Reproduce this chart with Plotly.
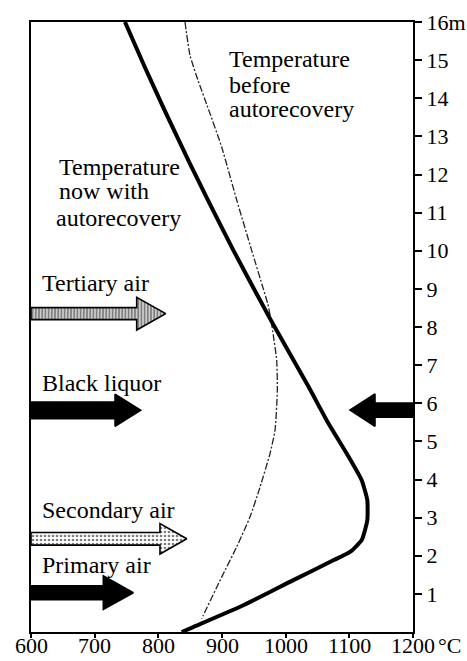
import plotly.graph_objects as go

# Temperature profile with autorecovery (thick line): temperature in °C vs height in m
now_temp = [747.6, 778.7, 809.7, 849.4, 877.9, 917.9, 976.7, 1036.0, 1064.5, 1095.9,
            1119.4, 1128.2, 1128.2, 1119.4, 1101.1, 1074.8, 1012.0, 933.5, 854.9, 836.7]
now_height = [16.0, 14.82, 13.69, 12.29, 11.33, 10.01, 8.18, 6.43, 5.55, 4.68,
              3.98, 3.46, 2.93, 2.41, 2.10, 1.88, 1.36, 0.70, 0.13, 0.0]

# Temperature profile before autorecovery (thin dash-dot line)
before_temp = [841.9, 849.7, 862.3, 876.4, 899.5, 923.1, 946.6, 964.9, 972.0, 977.0, 980.6,
               985.9, 986.9, 983.3, 975.4, 959.7, 944.0, 923.0, 899.5, 870.6, 868.0]
before_height = [16.0, 15.13, 14.47, 13.82, 12.72, 11.33, 10.01, 9.0, 8.6, 8.18, 7.78,
                 7.13, 6.34, 5.29, 4.68, 3.80, 3.02, 2.23, 1.44, 0.44, 0.35]

# Axis ticks
x_ticks = [600, 700, 800, 900, 1000, 1100, 1200]
x_ticklabels = ["600", "700", "800", "900", "1000", "1100", "1200"]
x_unit = "°C"
y_ticks = list(range(1, 17))
y_ticklabels = [str(v) for v in range(1, 16)] + ["16m"]

# Feed arrows: height (m), tail / head-base / tip temperatures (°C)
feed_names = ["Tertiary air", "Black liquor", "Black liquor (opposite wall)", "Secondary air", "Primary air"]
feed_height = [8.35, 5.815, 5.82, 2.445, 1.03]
feed_tail = [600, 600, 1200, 600, 600]
feed_head_base = [766.0, 732.0, 1140.3, 802.6, 713.6]
feed_tip = [811.6, 772.3, 1101.0, 844.6, 760.7]

FONT = "Liberation Serif"

fig = go.Figure()


def arrow_polygon(yc, tail, base, tip, body, head):
    xs = [tail, base, base, tip, base, base, tail, tail]
    ys = [yc - body, yc - body, yc - head, yc, yc + head, yc + body, yc + body, yc - body]
    return xs, ys


arrow_style = [
    dict(body=0.157, head=0.43, fillcolor="white",
         fillpattern=dict(shape="|", fgcolor="black", bgcolor="white", size=3.2, solidity=0.7)),
    dict(body=0.218, head=0.42, fillcolor="black", fillpattern=None),
    dict(body=0.184, head=0.425, fillcolor="black", fillpattern=None),
    dict(body=0.165, head=0.40, fillcolor="white",
         fillpattern=dict(shape=".", fgcolor="black", bgcolor="white", size=4, solidity=0.35)),
    dict(body=0.184, head=0.44, fillcolor="black", fillpattern=None),
]

for name, yc, tail, base, tip, st in zip(feed_names, feed_height, feed_tail,
                                         feed_head_base, feed_tip, arrow_style):
    xs, ys = arrow_polygon(yc, tail, base, tip, st["body"], st["head"])
    kw = dict(x=xs, y=ys, mode="lines", fill="toself", name=name,
              line=dict(color="black", width=1.6), fillcolor=st["fillcolor"],
              hoverinfo="skip", showlegend=False)
    if st["fillpattern"] is not None:
        kw["fillpattern"] = st["fillpattern"]
    fig.add_trace(go.Scatter(**kw))

fig.add_trace(go.Scatter(
    x=before_temp, y=before_height, mode="lines", name="Temperature before autorecovery",
    line=dict(color="#222222", width=1.3, dash="7px,2px,2px,2px", shape="spline", smoothing=0.5),
    showlegend=False))

fig.add_trace(go.Scatter(
    x=now_temp, y=now_height, mode="lines", name="Temperature now with autorecovery",
    line=dict(color="black", width=4, shape="spline", smoothing=0.5),
    showlegend=False))

# Text labels as single-line annotations, set on a tight leading
labels = [
    ("Temperature", 907.9, 15.02),
    ("before", 907.9, 14.35),
    ("autorecovery", 907.9, 13.72),
    ("Temperature", 641.0, 12.2),
    ("now with", 641.0, 11.57),
    ("autorecovery", 636.0, 10.85),
    ("Tertiary air", 614.1, 9.16),
    ("Black liquor", 614.1, 6.53),
    ("Secondary air", 614.1, 3.19),
    ("Primary air", 614.1, 1.76),
]
for text, x, y in labels:
    fig.add_annotation(x=x, y=y, xref="x", yref="y", text=text, showarrow=False,
                       xanchor="left", yanchor="middle",
                       font=dict(family=FONT, size=24, color="black"))

# Temperature tick labels set just under the axis line
for val, lab in zip(x_ticks, x_ticklabels):
    fig.add_annotation(x=val, y=0, xref="x", yref="paper", text=lab, showarrow=False,
                       xanchor="center", yanchor="top", yshift=1,
                       font=dict(family=FONT, size=22, color="black"))
fig.add_annotation(x=x_ticks[-1], y=0, xref="x", yref="paper", text=x_unit, showarrow=False,
                   xanchor="left", yanchor="top", xshift=23, yshift=1,
                   font=dict(family=FONT, size=22, color="black"))

fig.update_layout(
    width=467, height=661,
    margin=dict(l=31, r=54, t=22, b=29),
    paper_bgcolor="white", plot_bgcolor="white",
    font=dict(family=FONT, color="black"),
    xaxis=dict(range=[600, 1200], tickvals=x_ticks, showticklabels=False, automargin=False,
               showgrid=False, zeroline=False, showline=True, linecolor="black",
               linewidth=2, mirror=True, ticks="outside", ticklen=4, tickwidth=1.5,
               tickcolor="black"),
    yaxis=dict(range=[0, 16], side="right", tickvals=y_ticks, ticktext=y_ticklabels,
               automargin=False,
               showgrid=False, zeroline=False, showline=True, linecolor="black",
               linewidth=2, mirror=True, ticks="outside", ticklen=7, tickwidth=2,
               tickcolor="black", tickfont=dict(family=FONT, size=22, color="black")),
)

fig.write_html("out.html")
